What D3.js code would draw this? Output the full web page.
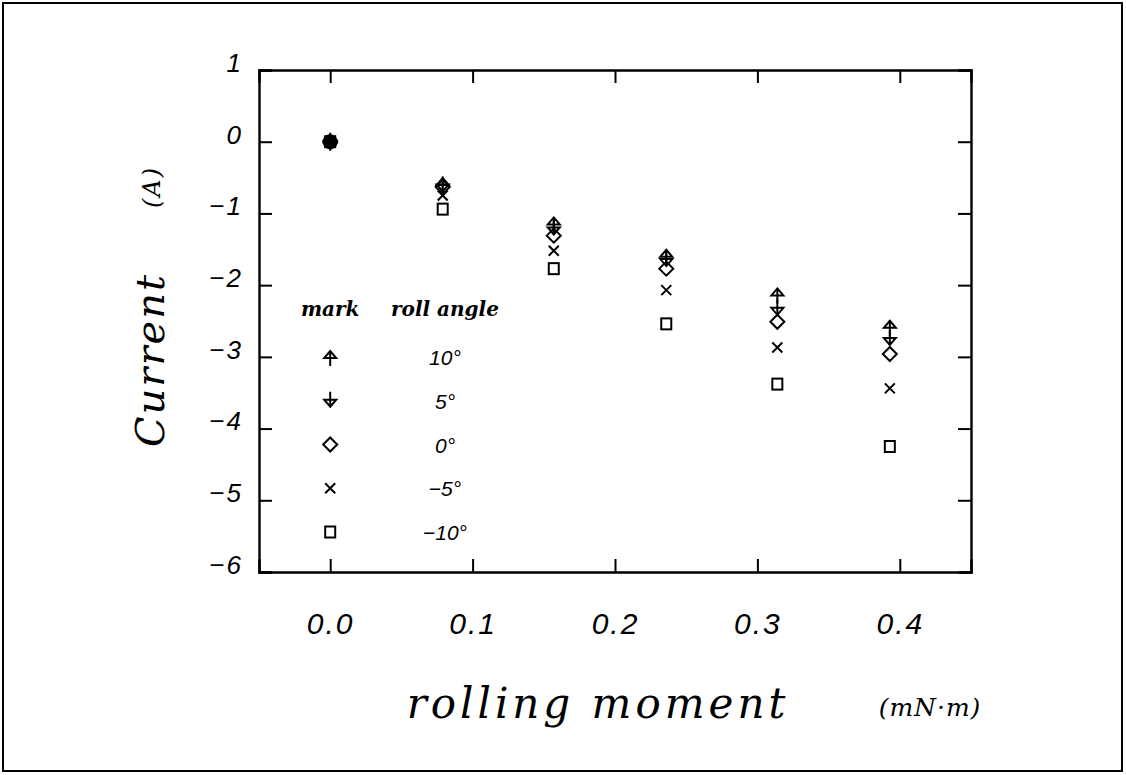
<!DOCTYPE html>
<html><head><meta charset="utf-8">
<script src="https://cdn.jsdelivr.net/npm/d3@7"></script>
<style>body{margin:0;background:#fff}svg{display:block}</style>
</head><body>
<svg id="c" width="1126" height="775"></svg>
<script>
const moments = [0, 0.079, 0.157, 0.236, 0.314, 0.393];
const rollAngles = ["10°", "5°", "0°", "−5°", "−10°"];
const markKinds = ["up", "down", "diamond", "cross", "square"];
const current10 = [0, -0.59, -1.14, -1.59, -2.13, -2.58];
const current5 = [0, -0.61, -1.21, -1.65, -2.33, -2.75];
const current0 = [0, -0.63, -1.31, -1.77, -2.51, -2.96];
const currentM5 = [0, -0.75, -1.52, -2.07, -2.87, -3.44];
const currentM10 = [0, -0.94, -1.77, -2.54, -3.38, -4.25];
const series = [current10, current5, current0, currentM5, currentM10];
const xTicks = [0, 0.1, 0.2, 0.3, 0.4];
const yTicks = [1, 0, -1, -2, -3, -4, -5, -6];

const svg = d3.select("#c");
const L = 259, R = 971, T = 70, B = 572;
const x = d3.scaleLinear().domain([-0.05, 0.45]).range([L, R]);
const y = d3.scaleLinear().domain([-6, 1]).range([B, T]);

svg.append("rect").attr("x", 3).attr("y", 3).attr("width", 1119).attr("height", 768)
  .attr("fill", "none").attr("stroke", "#000").attr("stroke-width", 2);

const sans = "'Liberation Sans', Arial, sans-serif";
const serif = "'DejaVu Serif', 'Liberation Serif', serif";

const tickLen = 13;
const gB = svg.append("g").attr("transform", `translate(0,${B})`)
  .call(d3.axisBottom(x).tickValues(xTicks).tickSize(-tickLen).tickPadding(0).tickFormat(d3.format(".1f")));
const gT = svg.append("g").attr("transform", `translate(0,${T})`)
  .call(d3.axisTop(x).tickValues(xTicks).tickSize(-tickLen).tickFormat(""));
const gL = svg.append("g").attr("transform", `translate(${L},0)`)
  .call(d3.axisLeft(y).tickValues(yTicks).tickSize(-tickLen).tickPadding(16).tickFormat(d => d < 0 ? "−" + (-d) : d));
const gR = svg.append("g").attr("transform", `translate(${R},0)`)
  .call(d3.axisRight(y).tickValues(yTicks).tickSize(-tickLen).tickFormat(""));
[gB, gT, gL, gR].forEach(g => {
  g.select(".domain").attr("stroke", "#000").attr("stroke-width", 2.4);
  g.selectAll(".tick line").attr("stroke", "#000").attr("stroke-width", 2);
  g.selectAll("text").attr("font-family", sans).attr("font-style", "italic").attr("fill", "#000");
});
gB.selectAll("text").attr("font-size", 30).attr("letter-spacing", 2).attr("dy", null).attr("y", 62);
gL.selectAll("text").attr("font-size", 26).attr("letter-spacing", 2).attr("dy", "0.05em");

function marker(g, kind, cx, cy) {
  const s = g.append("g").attr("transform", `translate(${cx},${cy})`)
    .attr("fill", "none").attr("stroke", "#000").attr("stroke-width", 2);
  if (kind === "up") {
    s.append("path").attr("d", "M0,-6 L6,1 L-6,1 Z");
    s.append("path").attr("d", "M0,-6 L0,9");
  } else if (kind === "down") {
    s.append("path").attr("d", "M0,6 L6,-1 L-6,-1 Z");
    s.append("path").attr("d", "M0,6 L0,-9");
  } else if (kind === "diamond") {
    s.append("path").attr("d", "M0,-7 L7,0 L0,7 L-7,0 Z");
  } else if (kind === "cross") {
    s.append("path").attr("d", "M-5,-5 L5,5 M5,-5 L-5,5");
  } else if (kind === "square") {
    s.append("rect").attr("x", -5).attr("y", -5.5).attr("width", 10).attr("height", 11);
  }
}

const gp = svg.append("g");
series.forEach((vals, i) => {
  vals.forEach((v, j) => marker(gp, markKinds[i], x(moments[j]), y(v)));
});
svg.append("circle").attr("cx", x(moments[0])).attr("cy", y(current0[0])).attr("r", 7.5).attr("fill", "#000");

// legend
const lg = svg.append("g");
const legX = x(0);
lg.append("text").attr("x", legX).attr("y", 316).attr("text-anchor", "middle").text("mark")
  .attr("font-family", serif).attr("font-style", "italic").attr("font-weight", "bold").attr("font-size", 20);
lg.append("text").attr("x", 445).attr("y", 316).attr("text-anchor", "middle").text("roll angle")
  .attr("font-family", serif).attr("font-style", "italic").attr("font-weight", "bold").attr("font-size", 20);
const legY = d3.scaleLinear().domain([0, 4]).range([357, 532]);
rollAngles.forEach((a, i) => {
  marker(lg, markKinds[i], legX, legY(i));
  lg.append("text").attr("x", 445).attr("y", legY(i) + 8).attr("text-anchor", "middle")
    .attr("font-family", sans).attr("font-style", "italic").attr("font-size", 21).text(a);
});

// axis titles
svg.append("text").attr("transform", "translate(164,360) rotate(-90)").attr("text-anchor", "middle")
  .attr("font-family", serif).attr("font-style", "italic").attr("font-size", 40).attr("letter-spacing", 2).text("Current");
svg.append("text").attr("transform", "translate(160,187) rotate(-90)").attr("text-anchor", "middle")
  .attr("font-family", serif).attr("font-style", "italic").attr("font-size", 24).attr("letter-spacing", 2).text("(A)");
svg.append("text").attr("x", 598).attr("y", 718).attr("text-anchor", "middle")
  .attr("font-family", serif).attr("font-style", "italic").attr("font-size", 42).attr("letter-spacing", 4).text("rolling  moment");
svg.append("text").attr("x", 930).attr("y", 716).attr("text-anchor", "middle")
  .attr("font-family", serif).attr("font-style", "italic").attr("font-size", 25).attr("letter-spacing", 1).text("(mN·m)");
</script>
</body></html>
